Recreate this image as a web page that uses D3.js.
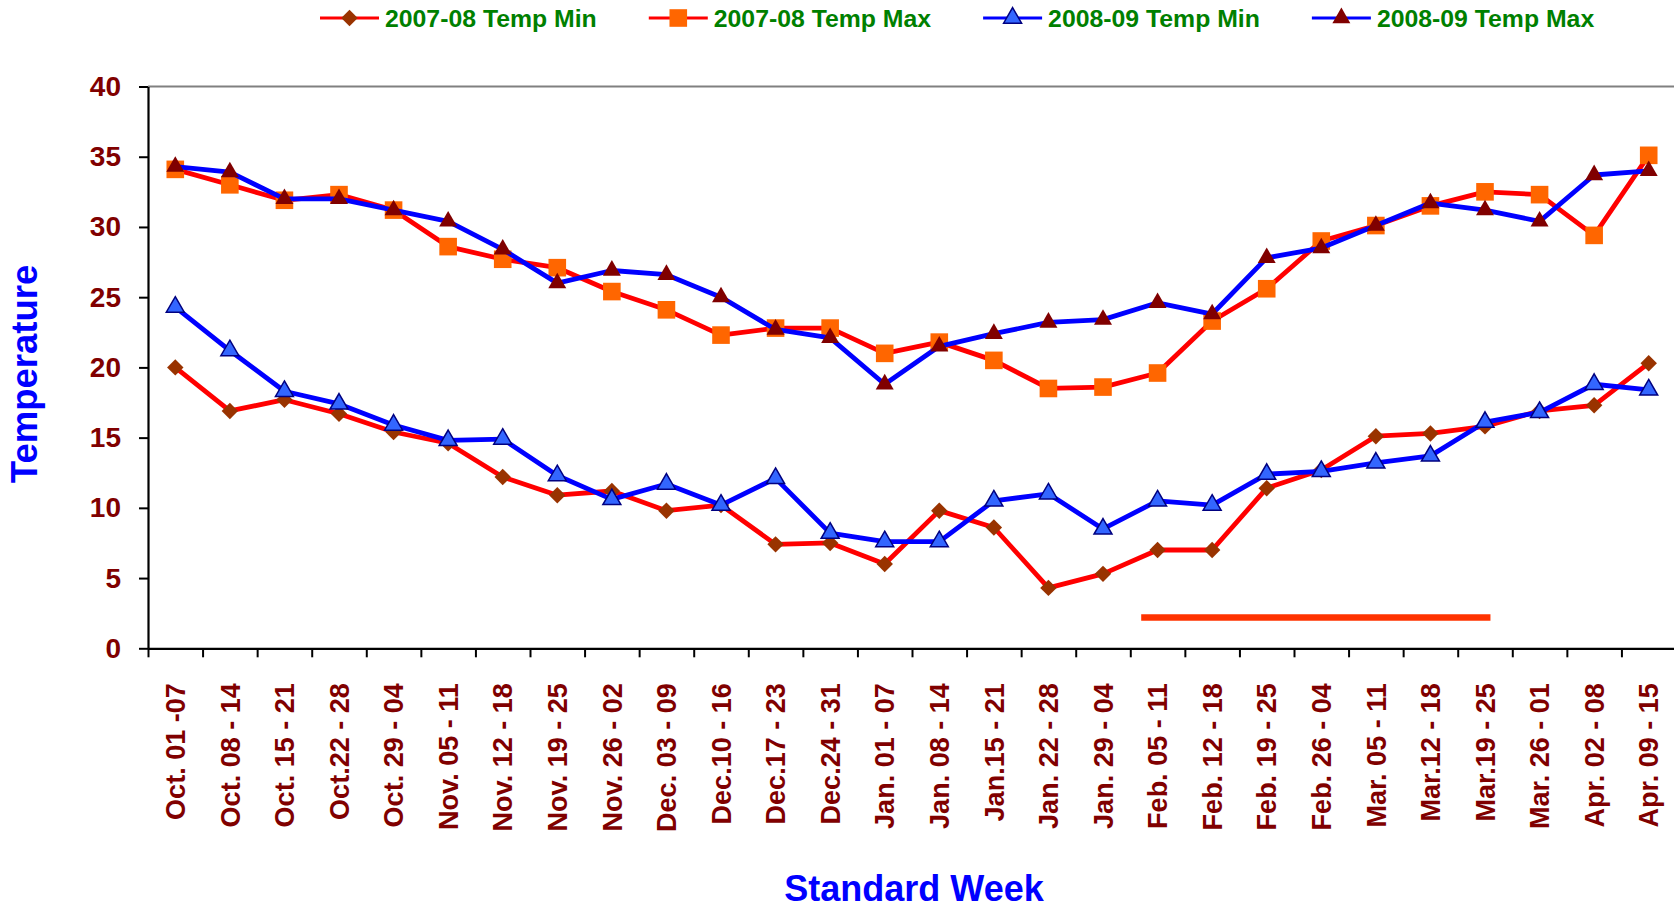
<!DOCTYPE html>
<html>
<head>
<meta charset="utf-8">
<script src="https://cdn.jsdelivr.net/npm/d3@7"></script>
<style>
  body { margin: 0; background: #fff; }
  svg { display: block; font-family: Arial, "Liberation Sans", sans-serif; font-weight: bold; }
</style>
</head>
<body>
<script>
// ---- data ----
const weeks = ["Oct. 01 -07", "Oct. 08 - 14", "Oct. 15 - 21", "Oct.22 - 28", "Oct. 29 - 04",
    "Nov. 05 - 11", "Nov. 12 - 18", "Nov. 19 - 25", "Nov. 26 - 02", "Dec. 03 - 09",
    "Dec.10 - 16", "Dec.17 - 23", "Dec.24 - 31", "Jan. 01 - 07", "Jan. 08 - 14",
    "Jan.15 - 21", "Jan. 22 - 28", "Jan. 29 - 04", "Feb. 05 - 11", "Feb. 12 - 18",
    "Feb. 19 - 25", "Feb. 26 - 04", "Mar. 05 - 11", "Mar.12 - 18", "Mar.19 - 25",
    "Mar. 26 - 01", "Apr. 02 - 08", "Apr. 09 - 15"];

const min0708 = [20.0, 16.9, 17.7, 16.7, 15.4, 14.6, 12.2, 10.9, 11.2, 9.8,
    10.2, 7.4, 7.5, 6.0, 9.8, 8.6, 4.3, 5.3, 7.0, 7.0,
    11.4, 12.7, 15.1, 15.3, 15.8, 16.9, 17.3, 20.3];

const max0708 = [34.1, 33.0, 31.9, 32.3, 31.2, 28.6, 27.7, 27.1, 25.4, 24.1,
    22.3, 22.8, 22.8, 21.0, 21.8, 20.5, 18.5, 18.6, 19.6, 23.3,
    25.6, 29.0, 30.1, 31.5, 32.5, 32.3, 29.4, 35.1];

const min0809 = [24.3, 21.2, 18.3, 17.4, 15.9, 14.8, 14.9, 12.3, 10.6, 11.7,
    10.2, 12.1, 8.2, 7.6, 7.6, 10.5, 11.0, 8.5, 10.5, 10.2,
    12.4, 12.6, 13.2, 13.7, 16.1, 16.8, 18.8, 18.4];

const max0809 = [34.3, 33.9, 32.0, 32.0, 31.2, 30.4, 28.4, 26.0, 26.9, 26.6,
    25.0, 22.7, 22.1, 18.8, 21.5, 22.4, 23.2, 23.4, 24.6, 23.8,
    27.8, 28.5, 30.1, 31.7, 31.2, 30.4, 33.7, 34.0];

const seriesNames = ["2007-08 Temp Min", "2007-08 Temp Max", "2008-09 Temp Min", "2008-09 Temp Max"];
const yTicks = [0, 5, 10, 15, 20, 25, 30, 35, 40];

// the hand drawn bar under the chart (week index units, temperature)
const markFrom = 18.2, markTo = 24.6, markValue = 2.2;

// ---- layout ----
const W = 1674, H = 908;
const plot = {left: 148, right: 1676, top: 86.5, bottom: 648.3};

const series = [
    {name: seriesNames[0], values: min0708, line: "#ff0000", shape: "diamond", fill: "#993300", stroke: "none"},
    {name: seriesNames[1], values: max0708, line: "#ff0000", shape: "square", fill: "#ff6600", stroke: "none"},
    {name: seriesNames[2], values: min0809, line: "#0000ff", shape: "triangle", fill: "#3366ff", stroke: "#000080"},
    {name: seriesNames[3], values: max0809, line: "#0000ff", shape: "triangle", fill: "#800000", stroke: "none"}
];

const svg = d3.select("body").append("svg")
    .attr("width", W)
    .attr("height", H);

const x = d3.scaleBand().domain(weeks).range([plot.left, plot.right]);
const xIdx = d3.scaleLinear().domain([0, weeks.length]).range([plot.left, plot.right]);
const y = d3.scaleLinear().domain([0, 40]).range([plot.bottom, plot.top]);

function symbolPath(shape) {
    if (shape === "diamond") return d3.symbol(d3.symbolSquare, 135)();
    if (shape === "square") return d3.symbol(d3.symbolSquare, 310)();
    return d3.symbol(d3.symbolTriangle, 140)();
}
function symbolRot(shape) { return shape === "diamond" ? " rotate(45)" : ""; }

// top border of the plot area
svg.append("line")
    .attr("x1", plot.left).attr("x2", plot.right)
    .attr("y1", plot.top).attr("y2", plot.top)
    .attr("stroke", "#808080").attr("stroke-width", 2);

// y axis
const yAxis = svg.append("g")
    .attr("transform", "translate(" + plot.left + ",0)")
    .call(d3.axisLeft(y).tickValues(yTicks).tickSize(9).tickPadding(18).tickSizeOuter(0));
yAxis.select(".domain").attr("stroke", "#000").attr("stroke-width", 2.2);
yAxis.selectAll(".tick line").attr("stroke", "#000").attr("stroke-width", 2);
yAxis.selectAll(".tick text")
    .attr("fill", "#800000")
    .style("font-size", "28px")
    .style("font-weight", "bold")
    .style("font-family", "Arial, 'Liberation Sans', sans-serif");

// x axis: ticks sit between the weeks
const xAxis = svg.append("g")
    .attr("transform", "translate(0," + plot.bottom + ")")
    .call(d3.axisBottom(xIdx).tickValues(d3.range(0, weeks.length + 1)).tickFormat("").tickSize(9).tickSizeOuter(0));
xAxis.select(".domain").attr("stroke", "#000").attr("stroke-width", 2.2);
xAxis.selectAll(".tick line").attr("stroke", "#000").attr("stroke-width", 2);

// week labels, rotated
svg.append("g")
    .selectAll("text")
    .data(weeks)
    .join("text")
    .attr("transform", d => "translate(" + (x(d) + x.bandwidth() / 2) + "," + (plot.bottom + 35) + ") rotate(-90)")
    .attr("text-anchor", "end")
    .attr("dy", "0.36em")
    .attr("fill", "#800000")
    .style("font-size", "27px")
    .text(d => d);

// axis titles
svg.append("text")
    .attr("x", (plot.left + plot.right) / 2 + 2)
    .attr("y", 901)
    .attr("text-anchor", "middle")
    .attr("fill", "#0000ff")
    .style("font-size", "36px")
    .text("Standard Week");

svg.append("text")
    .attr("transform", "translate(37,374) rotate(-90)")
    .attr("text-anchor", "middle")
    .attr("fill", "#0000ff")
    .style("font-size", "36.5px")
    .text("Temperature");

// series: line then markers
const line = d3.line()
    .x((d, i) => x(weeks[i]) + x.bandwidth() / 2)
    .y(d => y(d));

series.forEach(s => {
    const g = svg.append("g");
    g.append("path")
        .datum(s.values)
        .attr("fill", "none")
        .attr("stroke", s.line)
        .attr("stroke-width", 4.8)
        .attr("stroke-linejoin", "round")
        .attr("d", line);
    g.selectAll("path.pt")
        .data(s.values)
        .join("path")
        .attr("class", "pt")
        .attr("transform", (d, i) => "translate(" + (x(weeks[i]) + x.bandwidth() / 2) + "," + y(d) + ")" + symbolRot(s.shape))
        .attr("d", symbolPath(s.shape))
        .attr("fill", s.fill)
        .attr("stroke", s.stroke)
        .attr("stroke-width", 1.5);
});

// the orange-red bar near the bottom
svg.append("line")
    .attr("x1", xIdx(markFrom)).attr("x2", xIdx(markTo))
    .attr("y1", y(markValue)).attr("y2", y(markValue))
    .attr("stroke", "#ff3300")
    .attr("stroke-width", 6.5);

// legend
const legend = svg.append("g");
let lx = 320;
series.forEach(s => {
    const item = legend.append("g").attr("transform", "translate(" + lx + ",18)");
    item.append("line")
        .attr("x1", 0).attr("x2", 59)
        .attr("stroke", s.line).attr("stroke-width", 3);
    item.append("path")
        .attr("transform", "translate(29.5,0)" + symbolRot(s.shape))
        .attr("d", symbolPath(s.shape))
        .attr("fill", s.fill)
        .attr("stroke", s.stroke)
        .attr("stroke-width", 1.5);
    const t = item.append("text")
        .attr("x", 65)
        .attr("y", 8.8)
        .attr("fill", "#008000")
        .style("font-size", "24.8px")
        .text(s.name);
    lx += 65 + t.node().getComputedTextLength() + 52;
});
</script>
</body>
</html>
